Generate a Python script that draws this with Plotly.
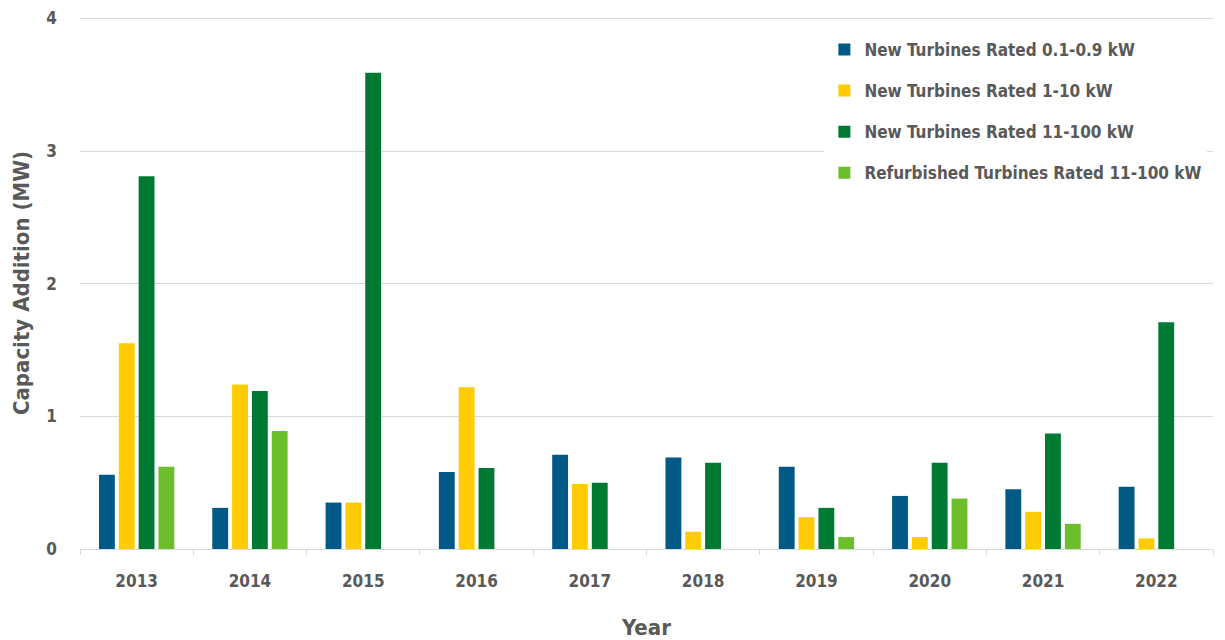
import plotly.graph_objects as go

years = ["2013", "2014", "2015", "2016", "2017", "2018", "2019", "2020", "2021", "2022"]
new_01_09 = [0.56, 0.31, 0.35, 0.58, 0.71, 0.69, 0.62, 0.40, 0.45, 0.47]
new_1_10 = [1.55, 1.24, 0.35, 1.22, 0.49, 0.13, 0.24, 0.09, 0.28, 0.08]
new_11_100 = [2.81, 1.19, 3.59, 0.61, 0.50, 0.65, 0.31, 0.65, 0.87, 1.71]
refurb_11_100 = [0.62, 0.89, None, None, None, None, 0.09, 0.38, 0.19, None]

series = [
    ("New Turbines Rated 0.1-0.9 kW", new_01_09, "#005A85"),
    ("New Turbines Rated 1-10 kW", new_1_10, "#FFCB05"),
    ("New Turbines Rated 11-100 kW", new_11_100, "#007A33"),
    ("Refurbished Turbines Rated 11-100 kW", refurb_11_100, "#6DBE2B"),
]

FONT = "Liberation Sans Narrow, DejaVu Sans Condensed, Arial Narrow, sans-serif"
TXT = "#595959"

fig = go.Figure()
for i, (name, vals, col) in enumerate(series):
    fig.add_trace(go.Bar(x=years, y=vals, name=name, marker_color=col,
                         marker_line_width=0, legendgroup=str(i)))

# page body has an 8px margin; the figure is sized to fit the remaining window
fig.update_layout(
    width=1217, height=632,
    margin=dict(l=72, r=12, t=9, b=91),
    plot_bgcolor="white", paper_bgcolor="white",
    barmode="group", bargap=0.3, bargroupgap=0.2,
    font=dict(family=FONT, color=TXT, size=16, weight="bold"),
    legend=dict(x=0.657, y=0.972, xanchor="left", yanchor="top",
                bgcolor="white", font=dict(size=17, color=TXT, family=FONT, weight="bold"),
                tracegroupgap=16, itemwidth=30),
    xaxis=dict(title=dict(text="Year", font=dict(size=22, color=TXT, weight="bold"), standoff=42),
               tickfont=dict(size=17, color=TXT, weight="bold"), showgrid=False, automargin=False,
               ticks="outside", tickson="boundaries", ticklen=5, tickcolor="#d9d9d9",
               ticklabelstandoff=17,
               showline=True, linecolor="#d9d9d9"),
    yaxis=dict(title=dict(text="Capacity Addition (MW)", font=dict(size=22, color=TXT, weight="bold"), standoff=10),
               range=[0, 4.01], tickvals=[0, 1, 2, 3, 4], ticktext=["0", "1", "2", "3", "4"],
               tickfont=dict(size=17, color=TXT, weight="bold"),
               automargin=False, ticklabeloverflow="allow",
               gridcolor="#d9d9d9", zeroline=False, ticklabelstandoff=22),
)

fig.write_html("out.html")
